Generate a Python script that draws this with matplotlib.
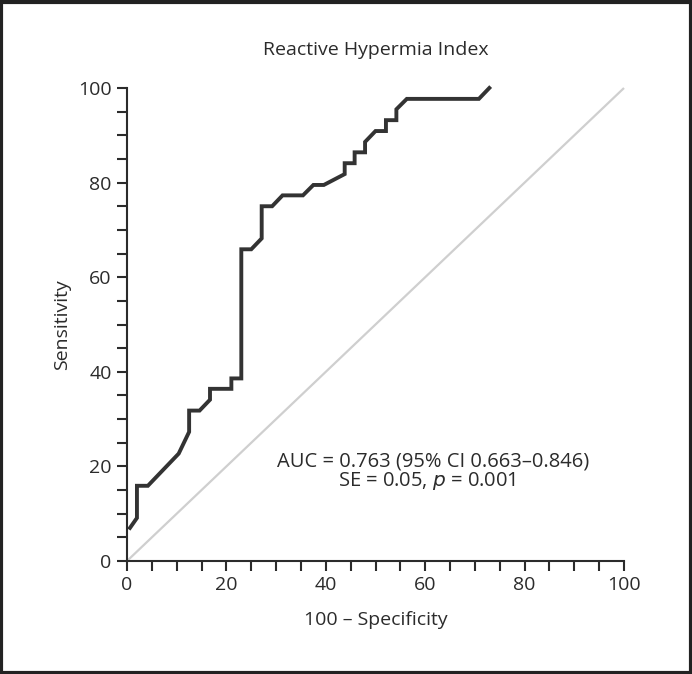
import matplotlib
matplotlib.use("Agg")
import matplotlib.pyplot as plt
from matplotlib.patches import Rectangle
from matplotlib.ticker import MultipleLocator

plt.rcParams['font.family'] = ['Open Sans', 'DejaVu Sans']

# ROC curve vertices (100 - specificity, sensitivity)
fpr = [0.6, 2.0, 2.0, 4.2, 10.4, 12.5, 12.5, 14.6, 16.7, 16.7, 21.0, 21.0, 23.0, 23.0,
       25.0, 27.1, 27.1, 29.2, 31.3, 35.4, 37.5, 39.6, 43.8, 43.8, 45.8, 45.8, 47.9,
       47.9, 50.0, 52.1, 52.1, 54.2, 54.2, 56.3, 70.8, 72.9]
tpr = [7.0, 9.1, 15.9, 15.9, 22.7, 27.3, 31.8, 31.8, 34.1, 36.4, 36.4, 38.6, 38.6, 65.9,
       65.9, 68.2, 75.0, 75.0, 77.3, 77.3, 79.5, 79.5, 81.8, 84.1, 84.1, 86.4, 86.4,
       88.6, 90.9, 90.9, 93.2, 93.2, 95.5, 97.7, 97.7, 100.0]
ref_x = [0, 100]
ref_y = [0, 100]
ticks = [0, 20, 40, 60, 80, 100]

title = "Reactive Hypermia Index"
xlabel = "100 \u2013 Specificity"
ylabel = "Sensitivity"
auc_text = "AUC = 0.763 (95% CI 0.663\u20130.846)"
se_text = "SE = 0.05, $\\it{p}$ = 0.001"

fig = plt.figure(figsize=(6.92, 6.74), dpi=100)
ax = fig.add_axes([127/692, 113/674, 497/692, 473/674])

axis_col = '#2b2b2b'
txt_col = '#2b2b2b'
ax.plot(ref_x, ref_y, color='#cfcfcf', lw=1.6, solid_capstyle='butt', clip_on=False)
ax.plot(fpr, tpr, color='#333333', lw=2.8, solid_joinstyle='miter', clip_on=False)

ax.set_xlim(0, 100)
ax.set_ylim(0, 100)
ax.set_xticks(ticks)
ax.set_yticks(ticks)
ax.xaxis.set_minor_locator(MultipleLocator(5))
ax.yaxis.set_minor_locator(MultipleLocator(5))
for s in ['top', 'right']:
    ax.spines[s].set_visible(False)
for s in ['left', 'bottom']:
    ax.spines[s].set_color(axis_col)
    ax.spines[s].set_linewidth(1.5)
ax.tick_params(which='both', direction='out', length=7, width=1.5, color=axis_col,
               labelsize=14, labelcolor=txt_col, pad=4)

ax.set_xlabel(xlabel, fontsize=14, color=txt_col, labelpad=12)
ax.set_ylabel(ylabel, fontsize=14, color=txt_col, labelpad=5)
fig.text(376/692, 1 - 50/674, title, ha='center', va='center', fontsize=14, color=txt_col)

fig.text(433/692, 1 - 461/674, auc_text, ha='center', va='center', fontsize=14.5, color=txt_col)
fig.text(427/692, 1 - 481/674, se_text, ha='center', va='center', fontsize=14.5, color=txt_col)

fig.patches.append(Rectangle((1.5/692, 1.5/674), 1 - 3/692, 1 - 3/674, transform=fig.transFigure,
                             fill=False, edgecolor='#222222', lw=3))

fig.savefig('out.png', dpi=100)
